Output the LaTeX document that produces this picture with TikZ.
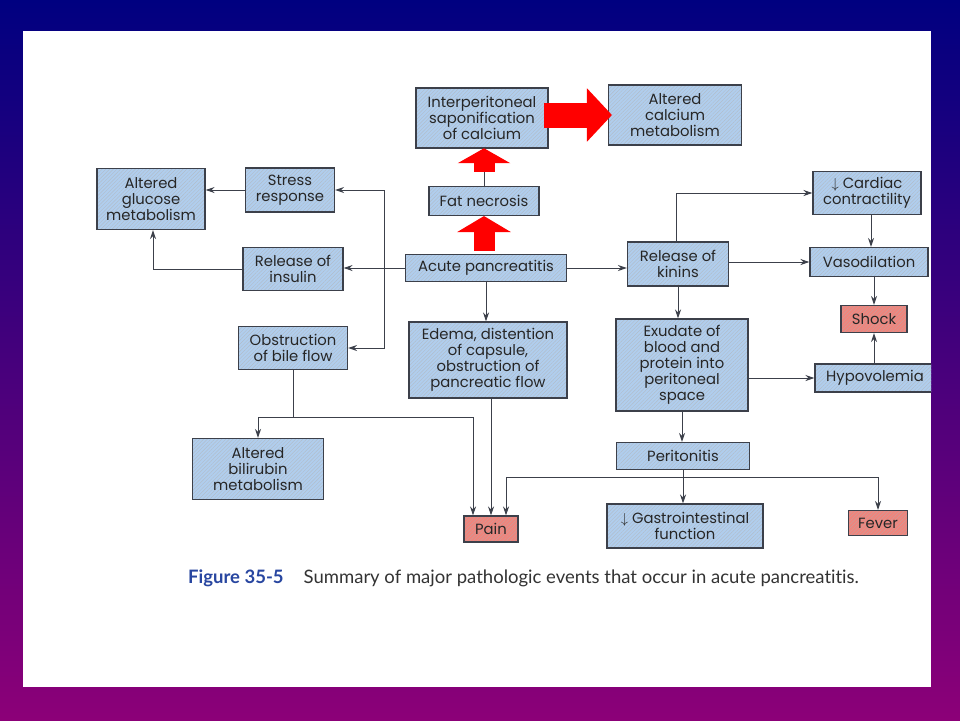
\documentclass[tikz,border=0pt]{standalone}
\usepackage{fontspec}
\setmainfont{Poppins}
\newfontfamily\capfont[Ligatures=NoCommon]{Lato}
\usetikzlibrary{arrows.meta,patterns.meta}
\definecolor{boxblue}{RGB}{176,206,238}
\definecolor{boxred}{RGB}{240,132,124}
\definecolor{edgegray}{RGB}{60,64,74}
\definecolor{slidetop}{RGB}{0,0,128}
\definecolor{slidebot}{RGB}{140,0,120}
\definecolor{figblue}{RGB}{40,70,160}
\begin{document}
\begin{tikzpicture}[x=1pt, y=-1pt,
        % 通用樣式
        box/.style={draw=edgegray, line width=1.1pt, preaction={fill=#1}, align=center, inner sep=0pt,
                    pattern={Lines[angle=45,distance=2.6pt,line width=0.45pt]}, pattern color=#1!70!black!60,
                    font=\fontsize{14.8}{16}\selectfont, text=black!85}, % 藍色方框
        box/.default=boxblue,
        redbox/.style={box=boxred}, % 紅色方框
        link/.style={draw=edgegray, line width=1pt, -{Stealth[length=9pt,width=6pt]}}, % 細箭頭
        plain/.style={draw=edgegray, line width=1pt}, % 細線
        bigarrow/.style={draw=red, line width=21pt, -{Triangle[length=15pt,width=52pt]}} % 紅色粗箭頭
    ]

        % --- 背景 ---
        \useasboundingbox (0,0) rectangle (960,720);
        \shade[top color=slidetop, bottom color=slidebot] (0,0) rectangle (960,720);
        \fill[white] (23,31) rectangle (931,687);

        \begin{scope}
            \clip (23,31) rectangle (931,687);

            % 1. 上方: 脂肪壞死與鈣
            \node[box, minimum width=132pt, minimum height=60pt] (sapon) at (482,118) {Interperitoneal\\saponification\\of calcium};
            \node[box, minimum width=133pt, minimum height=60pt] (calcium) at (675,115) {Altered\\calcium\\metabolism};
            \node[box, minimum width=110pt, minimum height=29pt] (fat) at (484,201) {Fat necrosis};
            \node[box, minimum width=161pt, minimum height=27pt] (acute) at (486,268) {Acute pancreatitis};

            % 2. 左側
            \node[box, minimum width=108pt, minimum height=61pt] (glucose) at (151,199) {Altered\\glucose\\metabolism};
            \node[box, minimum width=89pt, minimum height=44pt] (stress) at (290,190) {Stress\\response};
            \node[box, minimum width=100pt, minimum height=43pt] (insulin) at (293,269) {Release of\\insulin};
            \node[box, minimum width=109pt, minimum height=43pt] (obstr) at (293,348) {Obstruction\\of bile flow};
            \node[box, minimum width=131pt, minimum height=61pt] (bilirubin) at (258,469) {Altered\\bilirubin\\metabolism};

            % 3. 中間
            \node[box, minimum width=158pt, minimum height=76pt] (edema) at (488,360) {Edema, distention\\of capsule,\\obstruction of\\pancreatic flow};
            \node[redbox, minimum width=54pt, minimum height=26pt] (pain) at (491,529) {Pain};

            % 4. 右側
            \node[box, minimum width=101pt, minimum height=44pt] (kinins) at (678,264) {Release of\\kinins};
            \node[box, minimum width=108pt, minimum height=43pt] (cardiac) at (867,193) {$\downarrow$ Cardiac\\contractility};
            \node[box, minimum width=118pt, minimum height=29pt] (vaso) at (869,262) {Vasodilation};
            \node[redbox, minimum width=66pt, minimum height=27pt] (shock) at (874,319) {Shock};
            \node[box, minimum width=120pt, minimum height=28pt] (hypo) at (875,378) {Hypovolemia};
            \node[box, minimum width=132pt, minimum height=92pt] (exudate) at (682,365) {Exudate of\\blood and\\protein into\\peritoneal\\space};
            \node[box, minimum width=133pt, minimum height=27pt] (perit) at (683,456) {Peritonitis};
            \node[box, minimum width=156pt, minimum height=44pt] (gi) at (685,526) {$\downarrow$ Gastrointestinal\\function};
            \node[redbox, minimum width=59pt, minimum height=25pt] (fever) at (878,523) {Fever};

            % 5. 分叉點
            \coordinate (br) at (384,268);
            \coordinate (ob) at (293,417);
            \coordinate (pt) at (683,477);

            % 6. 紅色粗箭頭
            \draw[plain] (fat.north) -- ([yshift=14pt]fat.north);
            \draw[bigarrow] ([yshift=14pt]fat.north) -- (fat.north |- sapon.south);
            \draw[bigarrow, -{Triangle[length=16pt,width=53pt]}] ([yshift=3pt]acute.north -| fat.south) -- (fat.south);
            \draw[bigarrow, line width=25pt, -{Triangle[length=25pt,width=52pt]}] ([xshift=-4pt]sapon.east |- calcium.west) -- ([xshift=4pt]calcium.west);

            % 7. 左側連線
            \draw[link] (acute.west) -- (acute.west -| insulin.east);
            \draw[link] (br) |- (stress.east);
            \draw[link] (br) |- (obstr.east);
            \draw[link] (stress.west) -- (stress.west -| glucose.east);
            \draw[link] (insulin.west) -| ([xshift=2pt]glucose.south);
            \draw[plain] (obstr.south) -- (ob);
            \draw[link] (ob) -| (bilirubin.north);
            \draw[link] (ob) -| ([xshift=-18pt]pain.north);

            % 8. 中間連線
            \draw[link] (acute.south) -- (acute.south |- edema.north);
            \draw[link] (pain.north |- edema.south) -- (pain.north);

            % 9. 右側連線
            \draw[link] (acute.east) -- (acute.east -| kinins.west);
            \draw[link] ([xshift=-2pt]kinins.north) |- (cardiac.west);
            \draw[link] (kinins.east |- vaso.west) -- (vaso.west);
            \draw[link] ([xshift=4pt]cardiac.south) -- ([xshift=4pt]cardiac.south |- vaso.north);
            \draw[link] (shock.north |- vaso.south) -- (shock.north);
            \draw[link] (shock.south |- hypo.north) -- (shock.south);
            \draw[link] (kinins.south) -- (kinins.south |- exudate.north);
            \draw[link] (exudate.east |- hypo.west) -- (hypo.west);
            \draw[link] (exudate.south) -- (exudate.south |- perit.north);
            \draw[plain] (perit.south) -- (pt);
            \draw[link] (pt) -- (pt |- gi.north);
            \draw[link] (pt) -| (fever.north);
            \draw[link] (pt) -| ([xshift=15pt]pain.north);
        \end{scope}

        % --- 圖說 ---
        \node[anchor=base west, inner sep=0pt, font=\capfont\fontsize{18.5}{20}\selectfont, text=black!80] (caption) at (188,583)
            {\textcolor{figblue}{\bfseries Figure 35-5}\hspace{20pt}Summary of major pathologic events that occur in acute pancreatitis.};

    \end{tikzpicture}
\end{document}
